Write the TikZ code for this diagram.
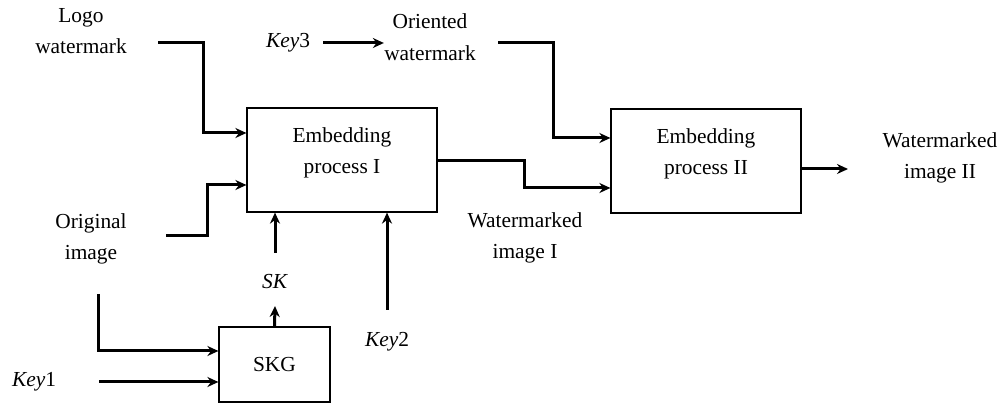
\documentclass[tikz,border=0pt]{standalone}
\usepackage{fontspec}
\setmainfont{Liberation Serif}
\usetikzlibrary{arrows.meta}
\begin{document}
\begin{tikzpicture}[x=0.5pt,y=-0.5pt,
  font=\fontsize{10.7}{15.7}\selectfont,
  txt/.style={align=center,inner sep=0pt},
  box/.style={draw,line width=0.6pt,align=center,inner sep=0pt},
  arr/.style={line width=1.5pt,-{Stealth[length=5.5pt,width=5pt,inset=1.8pt]}},
  ln/.style={line width=1.5pt}]
\useasboundingbox (0,0) rectangle (1003,405);
% boxes
\node[box,minimum width=95pt,minimum height=52pt] (b1) at (342,160) {Embedding\\process I\vphantom{p}\\[-6pt]};
\node[box,minimum width=95pt,minimum height=52pt] (b2) at (706,161) {Embedding\\process II\vphantom{p}\\[-6pt]};
\node[box,minimum width=55.5pt,minimum height=37.5pt] (skg) at (274.5,364.5) {SKG};
% texts
\node[txt] (logo) at (81,31) {Logo\\watermark};
\node[txt] (orig) at (91,239) {Original\\image};
\node[txt] (key1) at (34,382) {\textit{Key}1};
\node[txt] (key3) at (288,43) {\textit{Key}3};
\node[txt] (orient) at (430,37) {Oriented\\watermark};
\node[txt] (sk) at (275,282) {\textit{SK}};
\node[txt] (key2) at (387,342) {\textit{Key}2};
\node[txt] (wm1) at (525,238) {Watermarked\\image I};
\node[txt] (wm2) at (940,158) {Watermarked\\image II};
% free ends
\coordinate (cl) at (158,43);
\coordinate (co) at (166,236);
\coordinate (cod) at (98,294);
\coordinate (ck1) at (99,382);
\coordinate (ck3) at (323,43);
\coordinate (cor) at (498,43);
\coordinate (ck2) at (387,310);
\coordinate (wout) at (848,169);
% connectors
\draw[arr] (cl) -- (203,43) -- (203,133) -- (b1.west |- {(0,133)});
\draw[arr] (co) -- (207,236) -- (207,185) -- (b1.west |- {(0,185)});
\draw[arr] (cod) -- (98,351) -- (skg.west |- {(0,351)});
\draw[arr] (ck1) -- (skg.west |- ck1);
\draw[arr] (skg.north) -- (sk.south |- {(0,306)});
\draw[arr] (sk.north |- {(0,253)}) -- (b1.south -| sk);
\draw[arr] (ck2) -- (b1.south -| ck2);
\draw[arr] (ck3) -- (orient.west |- ck3);
\draw[arr] (cor) -- (553,43) -- (553,138) -- (b2.west |- {(0,138)});
\draw[arr] (b1.east |- {(0,161)}) -- (524,161) -- (524,188) -- (b2.west |- {(0,188)});
\draw[arr] (b2.east |- wout) -- (wout);
\end{tikzpicture}
\end{document}
